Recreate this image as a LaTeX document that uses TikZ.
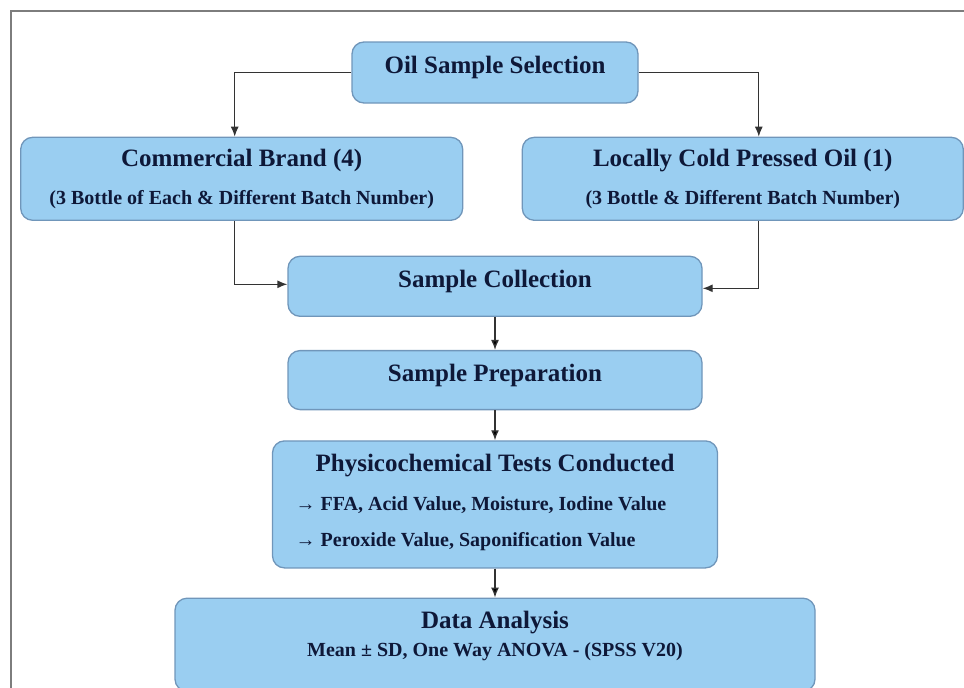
\documentclass[tikz,border=0pt]{standalone}
\usepackage{fontspec}
\setmainfont{Liberation Serif}
\usepackage{xcolor}
\usetikzlibrary{arrows.meta,positioning}
\definecolor{boxblue}{RGB}{154,206,241}
\definecolor{boxedge}{RGB}{112,150,186}
\definecolor{boxtext}{RGB}{14,24,56}
\definecolor{framegray}{RGB}{125,125,125}
\newcommand{\subtext}{\fontsize{20}{24}\selectfont}

\begin{document}
\begin{tikzpicture}[>={Latex[length=10pt,width=8pt]}]
        \tikzset{block/.style={draw=boxedge, fill=boxblue, line width=1.3pt, rectangle, rounded corners=12pt, align=center, text=boxtext, font=\bfseries\fontsize{25}{30}\selectfont, inner sep=4pt},
        sblock/.style={block, text depth=15pt},
        link/.style={draw=black!80, line width=1.3pt},
        }
        \useasboundingbox (0,0) rectangle (964pt,-688pt);
        \draw[framegray, line width=2pt] (11pt,-688pt) -- (11pt,-11pt) -- (964pt,-11pt);

        \node [sblock, minimum width=286pt, minimum height=61pt] (select) at (495pt,-72.5pt) {Oil Sample Selection};
        \node [block, minimum width=442pt, minimum height=83pt, below left=33pt and -112pt of select] (brand) {Commercial Brand (4)\\[8pt] {\subtext (3 Bottle of Each \& Different Batch Number)}};
        \node [block, minimum width=441pt, minimum height=83pt, below right=33pt and -117pt of select] (cold) {Locally Cold Pressed Oil (1)\\[8pt] {\subtext (3 Bottle \& Different Batch Number)}};
        \node [sblock, minimum width=414pt, minimum height=60pt, below=152pt of select] (collect) {Sample Collection};
        \node [sblock, minimum width=414pt, minimum height=59pt, below=33pt of collect] (prep) {Sample Preparation};
        \node [block, minimum width=445pt, minimum height=127pt, below=30pt of prep] (tests) {Physicochemical Tests Conducted\\[9pt] {\subtext\begin{tabular}[t]{@{}l@{}}→ FFA, Acid Value, Moisture, Iodine Value\\[12pt] → Peroxide Value, Saponification Value\end{tabular}\hspace*{28pt}}};
        \node [block, minimum width=640pt, minimum height=93pt, below=29pt of tests] (analysis) {Data Analysis\\[-2pt] {\subtext Mean ± SD, One Way ANOVA - (SPSS V20)\rule[-22pt]{0pt}{22pt}}};

%% paths
        \path[link,->] (select.west) -| ([xshift=-7pt]brand.north);
        \path[link,->] (select.east) -| ([xshift=16pt]cold.north);
        \path[link,->] ([xshift=-7pt]brand.south) |- ([yshift=2pt]collect.west);
        \path[link,->] ([xshift=16pt]cold.south) |- ([yshift=-2pt]collect.east);
        \path[link,->] (collect) edge (prep)
                    (prep) edge (tests)
                    (tests) edge (analysis)
                    ;
\end{tikzpicture}
\end{document}
